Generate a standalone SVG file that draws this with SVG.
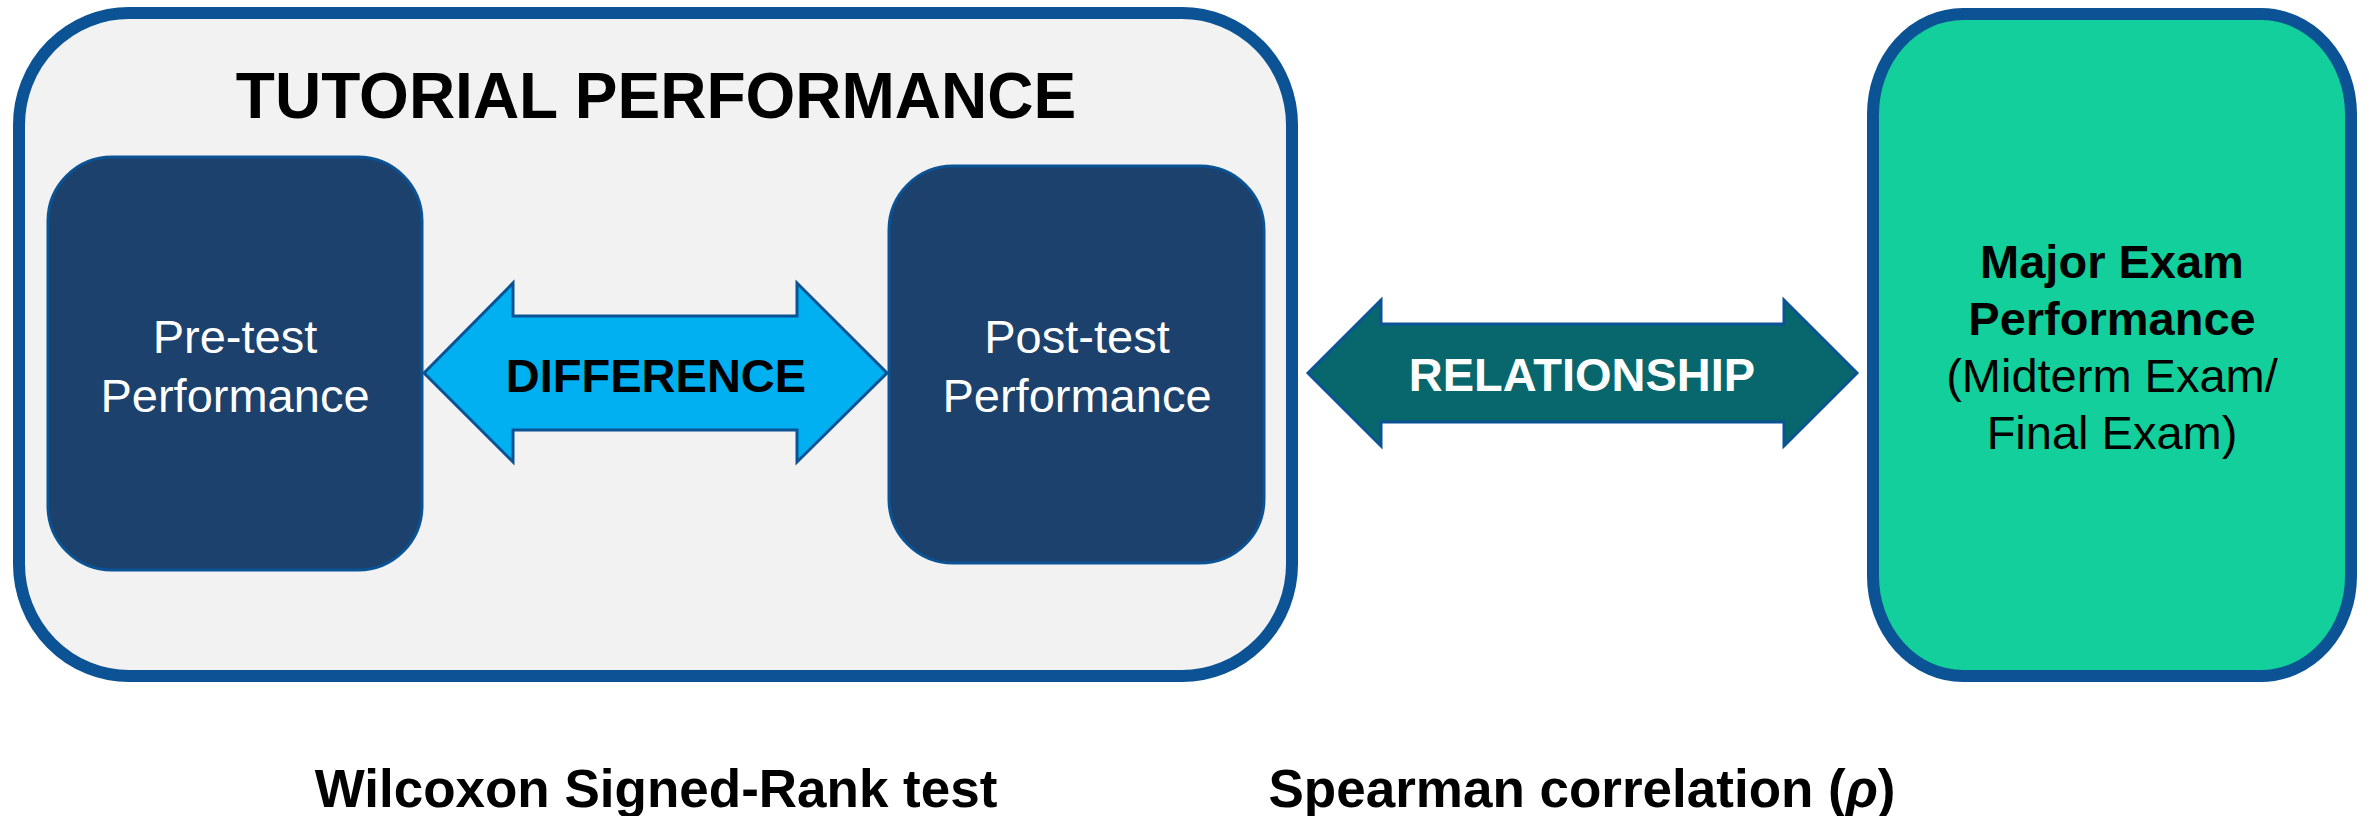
<svg xmlns="http://www.w3.org/2000/svg" width="2374" height="816" viewBox="0 0 2374 816">
<style>
  .t { font-family: "Liberation Sans", Arial, sans-serif; text-anchor: middle; }
  .b { font-weight: bold; }
  .navy { fill: #1B416C; stroke: #0B5394; stroke-width: 3; }
  .arrow { stroke: #0B5394; stroke-width: 3; stroke-linejoin: miter; }
</style>
<rect width="2374" height="816" fill="#FFFFFF"/>
<g id="tutorial-performance">
  <rect x="19" y="13" width="1273" height="663" rx="110" ry="112" fill="#F2F2F2" stroke="#0B5394" stroke-width="12"/>
  <text class="t b" x="656" y="118" font-size="64" fill="#000">TUTORIAL PERFORMANCE</text>
</g>
<g id="pre-test">
  <rect class="navy" x="48" y="157" width="374" height="413" rx="64" ry="64"/>
  <text class="t" x="235" y="353" font-size="47" fill="#FFF">Pre-test</text>
  <text class="t" x="235" y="412" font-size="47" fill="#FFF">Performance</text>
</g>
<g id="post-test">
  <rect class="navy" x="889" y="166" width="375" height="397" rx="64" ry="64"/>
  <text class="t" x="1077" y="353" font-size="47" fill="#FFF">Post-test</text>
  <text class="t" x="1077" y="412" font-size="47" fill="#FFF">Performance</text>
</g>
<g id="major-exam">
  <rect x="1873" y="14" width="478" height="662" rx="90" ry="100" fill="#12CF9B" stroke="#0B5394" stroke-width="12"/>
  <text class="t b" x="2112" y="278" font-size="47" fill="#000">Major Exam</text>
  <text class="t b" x="2112" y="335" font-size="47" fill="#000">Performance</text>
  <text class="t" x="2112" y="392" font-size="47" fill="#000">(Midterm Exam/</text>
  <text class="t" x="2112" y="449" font-size="47" fill="#000">Final Exam)</text>
</g>
<g id="connectors">
  <g id="difference">
    <polygon class="arrow" fill="#00B0F0" points="424,373 513,283 513,316 797,316 797,283 887,373 797,462 797,430 513,430 513,462"/>
    <text class="t b" x="656" y="392" font-size="47" fill="#000">DIFFERENCE</text>
  </g>
  <g id="relationship">
    <polygon class="arrow" fill="#08676C" points="1308,373 1381,300 1381,324 1784,324 1784,300 1857,373 1784,446 1784,422 1381,422 1381,446"/>
    <text class="t b" x="1582" y="391" font-size="47" fill="#FFF">RELATIONSHIP</text>
  </g>
</g>
<g id="labels">
  <text class="t b" x="656" y="807" font-size="53" fill="#000">Wilcoxon Signed-Rank test</text>
  <text class="t b" x="1582" y="807" font-size="53" fill="#000">Spearman correlation (<tspan font-style="italic">ρ</tspan>)</text>
</g>
</svg>
